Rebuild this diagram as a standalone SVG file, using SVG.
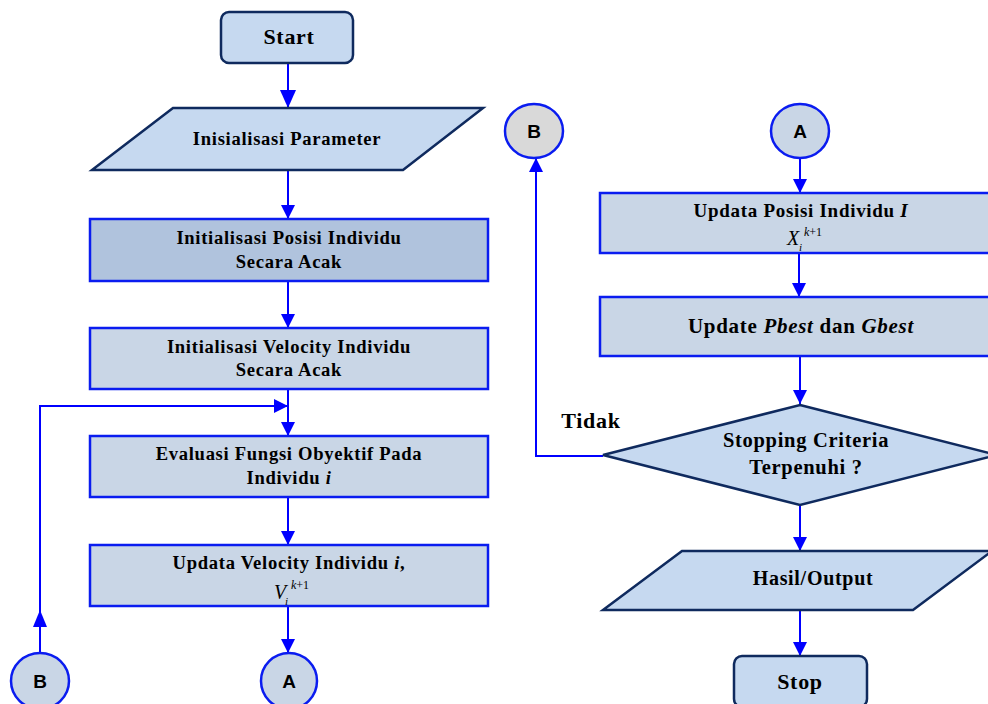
<svg xmlns="http://www.w3.org/2000/svg" width="988" height="704" viewBox="0 0 988 704">
<defs>
<marker id="ah" markerUnits="userSpaceOnUse" markerWidth="14" markerHeight="14" refX="14" refY="7" orient="auto">
<path d="M0,0 L14,7 L0,14 Z" fill="#0000ff"/>
</marker>
<marker id="ahb" markerUnits="userSpaceOnUse" markerWidth="18" markerHeight="16" refX="18" refY="8" orient="auto">
<path d="M0,0 L18,8 L0,16 Z" fill="#0000ff"/>
</marker>
</defs>
<style>
.t{font-family:"Liberation Serif","Times New Roman",serif;font-weight:bold;font-size:18.6px;fill:#000;text-anchor:middle;letter-spacing:0.7px}
.m{font-family:"Liberation Serif","Times New Roman",serif;font-style:italic;fill:#000}
.c{font-family:"Liberation Sans",Arial,sans-serif;font-weight:bold;font-size:19px;fill:#000;text-anchor:middle}
.term{fill:#c6d9f0;stroke:#0f2a5e;stroke-width:2.5}
.box{fill:#c9d6e6;stroke:#0a1cf0;stroke-width:2.5}
.circ{fill:#c9d6e6;stroke:#0a1cf0;stroke-width:2.5}
.ln{fill:none;stroke:#0000ff;stroke-width:2}
</style>
<rect width="988" height="704" fill="#fff"/>
<g id="connectors">
<line class="ln" x1="288" y1="63" x2="288" y2="108" stroke-width="4" marker-end="url(#ahb)"/>
<line class="ln" x1="288" y1="170" x2="288" y2="219" marker-end="url(#ah)"/>
<line class="ln" x1="288" y1="281" x2="288" y2="328" marker-end="url(#ah)"/>
<line class="ln" x1="288" y1="389" x2="288" y2="436" marker-end="url(#ah)"/>
<polyline class="ln" points="40,653 40,406 288,406" marker-end="url(#ah)"/>
<path d="M33,627 L40,610 L47,627 Z" fill="#0000ff"/>
<line class="ln" x1="288" y1="497" x2="288" y2="545" marker-end="url(#ah)"/>
<line class="ln" x1="288" y1="606" x2="288" y2="653" marker-end="url(#ah)"/>
<line class="ln" x1="800" y1="158" x2="800" y2="193" marker-end="url(#ah)"/>
<line class="ln" x1="799" y1="253" x2="799" y2="297" marker-end="url(#ah)"/>
<line class="ln" x1="800" y1="356" x2="800" y2="404" marker-end="url(#ah)"/>
<polyline class="ln" points="603,456 536,456 536,158" marker-end="url(#ah)"/>
<line class="ln" x1="800" y1="506" x2="800" y2="551" marker-end="url(#ah)"/>
<line class="ln" x1="800" y1="610" x2="800" y2="656" marker-end="url(#ah)"/>
<text class="t" x="591" y="428" style="font-size:22px">Tidak</text>
</g>
<g id="start">
<rect class="term" x="221" y="12" width="132" height="51" rx="8"/>
<text class="t" x="289" y="44" style="font-size:22px">Start</text>
</g>
<g id="param">
<polygon class="term" points="173,108 483,108 403,170 92,170"/>
<text class="t" x="287" y="145">Inisialisasi Parameter</text>
</g>
<g id="initpos">
<rect class="box" x="90" y="219" width="398" height="62" style="fill:#b0c3dd"/>
<text class="t" x="289" y="244">Initialisasi Posisi Individu</text>
<text class="t" x="289" y="268">Secara Acak</text>
</g>
<g id="initvel">
<rect class="box" x="90" y="328" width="398" height="61"/>
<text class="t" x="289" y="353">Initialisasi Velocity Individu</text>
<text class="t" x="289" y="376">Secara Acak</text>
</g>
<g id="eval">
<rect class="box" x="90" y="436" width="398" height="61"/>
<text class="t" x="289" y="460">Evaluasi Fungsi Obyektif Pada</text>
<text class="t" x="289" y="484">Individu <tspan font-style="italic">i</tspan></text>
</g>
<g id="updvel">
<rect class="box" x="90" y="545" width="398" height="61"/>
<text class="t" x="289" y="569">Updata Velocity Individu <tspan font-style="italic">i</tspan>,</text>
<text class="m" x="274" y="599" font-size="20">V</text>
<text class="m" x="285" y="605" font-size="11">i</text>
<text class="m" x="291" y="589" font-size="12">k<tspan font-style="normal">+1</tspan></text>
</g>
<g id="nodeA1">
<ellipse class="circ" cx="289" cy="681" rx="28" ry="28"/>
<text class="c" x="289" y="688">A</text>
</g>
<g id="nodeB1">
<ellipse class="circ" cx="40" cy="681" rx="29" ry="28"/>
<text class="c" x="40" y="688">B</text>
</g>
<g id="nodeB2">
<ellipse class="circ" cx="534" cy="131" rx="29" ry="27" style="fill:#d9d9d9"/>
<text class="c" x="534" y="138">B</text>
</g>
<g id="nodeA2">
<ellipse class="circ" cx="800" cy="131" rx="29" ry="27"/>
<text class="c" x="800" y="138">A</text>
</g>
<g id="updpos">
<rect class="box" x="600" y="193" width="392" height="60"/>
<text class="t" x="801" y="217" style="font-size:19px">Updata Posisi Individu <tspan font-style="italic">I</tspan></text>
<text class="m" x="787" y="245" font-size="20">X</text>
<text class="m" x="799" y="251" font-size="11">i</text>
<text class="m" x="804" y="236" font-size="12">k<tspan font-style="normal">+1</tspan></text>
</g>
<g id="updbest">
<rect class="box" x="600" y="297" width="392" height="59"/>
<text class="t" x="801" y="333" style="font-size:21px">Update <tspan font-style="italic">Pbest</tspan> dan <tspan font-style="italic">Gbest</tspan></text>
</g>
<g id="decision">
<polygon class="term" points="800,405 997,455 800,505 603,455"/>
<text class="t" x="806" y="447" style="font-size:20.5px">Stopping Criteria</text>
<text class="t" x="806" y="474" style="font-size:20.5px">Terpenuhi ?</text>
</g>
<g id="output">
<polygon class="term" points="682,551 992,551 913,610 603,610"/>
<text class="t" x="813" y="585" style="font-size:20px">Hasil/Output</text>
</g>
<g id="stop">
<rect class="term" x="734" y="656" width="133" height="51" rx="8"/>
<text class="t" x="800" y="689" style="font-size:22px">Stop</text>
</g>
</svg>
